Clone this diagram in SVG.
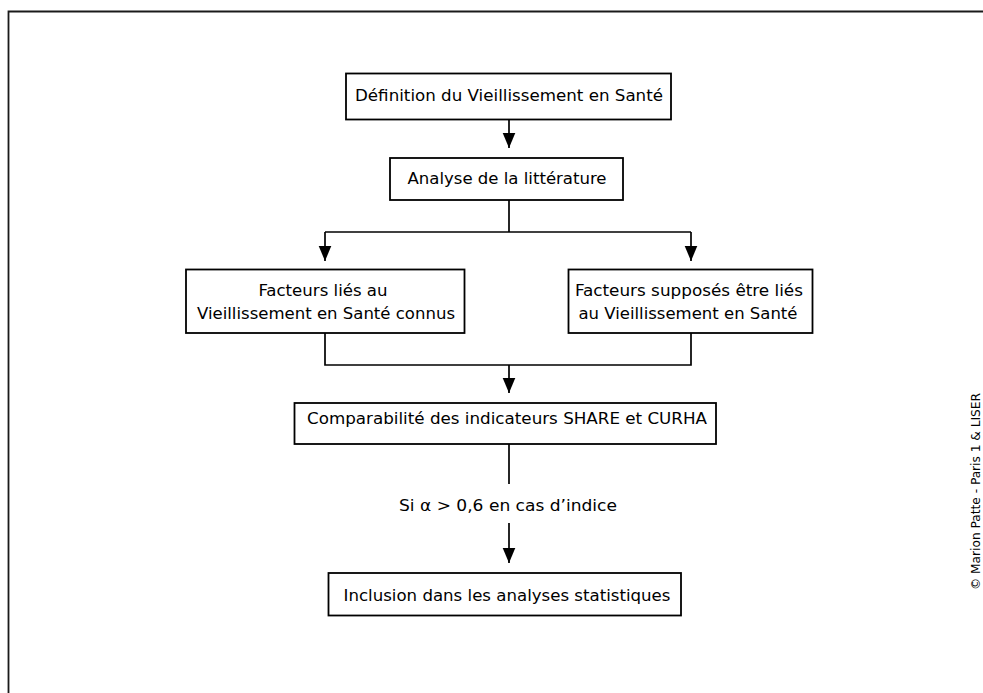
<svg xmlns="http://www.w3.org/2000/svg" width="983" height="693" viewBox="0 0 983 693">
<defs>
<marker id="ah" markerUnits="userSpaceOnUse" markerWidth="16" markerHeight="14" refX="15.5" refY="6.5" orient="auto">
<path d="M0,0 L15.5,6.5 L0,13 Z" fill="#000"/>
</marker>
<style>
.box{fill:#fff;stroke:#000;stroke-width:1.8}
.ln{fill:none;stroke:#000;stroke-width:1.7}
.t{font-family:"DejaVu Sans Condensed","DejaVu Sans",sans-serif;font-size:15.5px;fill:#000;text-anchor:middle}
.c{font-family:"DejaVu Sans Condensed","DejaVu Sans",sans-serif;font-size:12.5px;fill:#000;text-anchor:middle}
</style>
</defs>
<rect width="983" height="693" fill="#fff"/>
<path d="M8.5,693 V11.5 H983" fill="none" stroke="#1a1a1a" stroke-width="1.8"/>

<g id="connectors">
<path class="ln" d="M509,120 V148" marker-end="url(#ah)"/>
<path class="ln" d="M509,200 V232"/>
<path class="ln" d="M325,232 H691"/>
<path class="ln" d="M325,232 V261" marker-end="url(#ah)"/>
<path class="ln" d="M691,232 V261" marker-end="url(#ah)"/>
<path class="ln" d="M325,333 V365 H691 V333"/>
<path class="ln" d="M509,365 V393" marker-end="url(#ah)"/>
<path class="ln" d="M509,444 V484"/>
<path class="ln" d="M509,523 V563" marker-end="url(#ah)"/>
</g>

<g id="n1">
<rect class="box" x="346" y="73.5" width="325" height="46"/>
<text class="t" x="509" y="100.5" textLength="308" lengthAdjust="spacingAndGlyphs">Définition du Vieillissement en Santé</text>
</g>
<g id="n2">
<rect class="box" x="390" y="158" width="233" height="42"/>
<text class="t" x="507" y="184" textLength="199" lengthAdjust="spacingAndGlyphs">Analyse de la littérature</text>
</g>
<g id="n3">
<rect class="box" x="186" y="269.5" width="278.5" height="63.5"/>
<text class="t" x="323" y="296" textLength="129" lengthAdjust="spacingAndGlyphs">Facteurs liés au</text>
<text class="t" x="326" y="319" textLength="258" lengthAdjust="spacingAndGlyphs">Vieillissement en Santé connus</text>
</g>
<g id="n4">
<rect class="box" x="568.5" y="269.5" width="244" height="63.5"/>
<text class="t" x="689" y="296" textLength="228" lengthAdjust="spacingAndGlyphs">Facteurs supposés être liés</text>
<text class="t" x="688" y="319" textLength="219" lengthAdjust="spacingAndGlyphs">au Vieillissement en Santé</text>
</g>
<g id="n5">
<rect class="box" x="294.5" y="403" width="421.5" height="41"/>
<text class="t" x="507" y="424" textLength="400" lengthAdjust="spacingAndGlyphs">Comparabilité des indicateurs SHARE et CURHA</text>
</g>
<g id="label">
<text class="t" x="508" y="511" textLength="218" lengthAdjust="spacingAndGlyphs">Si α &gt; 0,6 en cas d’indice</text>
</g>
<g id="n6">
<rect class="box" x="328.5" y="573" width="352.5" height="42.5"/>
<text class="t" x="507" y="601" textLength="327" lengthAdjust="spacingAndGlyphs">Inclusion dans les analyses statistiques</text>
</g>
<g id="copyright">
<text class="c" transform="translate(980,491.5) rotate(-90)" textLength="197" lengthAdjust="spacingAndGlyphs">© Marion Patte - Paris 1 &amp; LISER</text>
</g>
</svg>
